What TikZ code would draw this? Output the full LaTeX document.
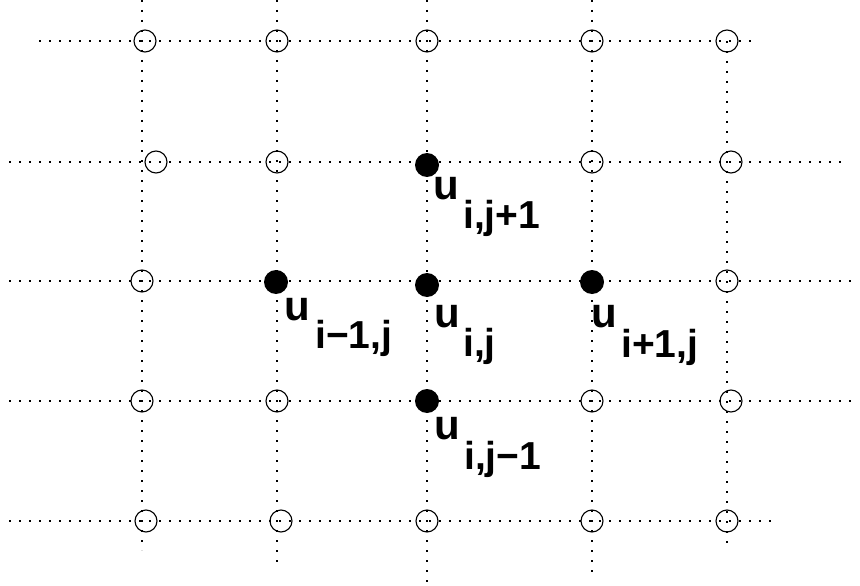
\documentclass[tikz,border=0pt]{standalone}
\usepackage{fontspec}
\setmainfont{Liberation Sans}

\begin{document}
\begin{tikzpicture}[
  x=1pt,y=-1pt,
  gridline/.style={line width=1.6pt,dash pattern=on 1.6pt off 8.4pt},
  opennode/.style={circle,draw,line width=1.1pt,minimum size=22pt,inner sep=0pt},
  fullnode/.style={circle,fill,minimum size=24pt,inner sep=0pt},
  ulbl/.style={anchor=base west,inner sep=0pt,
               font=\fontsize{42}{42}\selectfont\bfseries},
  sublbl/.style={anchor=base west,inner sep=0pt,
                 font=\fontsize{39}{39}\selectfont\bfseries},
]
\useasboundingbox (0,0) rectangle (860,586);

% Dotted grid lines.
\foreach \x/\ya/\yb in {142/0/550, 277/0/562, 427/0/582, 592/0/572, 727/41/545} {
  \draw[gridline] (\x,\ya) -- (\x,\yb);
}
\foreach \y/\xa/\xb in {41/39/753, 162/9/843, 281/9/853, 401/9/853, 521/9/773} {
  \draw[gridline] (\xa,\y) -- (\xb,\y);
}

% Open grid points.
\foreach \n/\x/\y in {a1/145/41, a2/277/41, a3/427/41, a4/592/41, a5/727/41,
                      b1/156/162, b2/277/162, b4/592/162, b5/731/162,
                      c1/142/281, c5/727/281,
                      d1/142/401, d2/277/401, d4/592/401, d5/731/401,
                      e1/146/521, e2/281/521, e3/427/521, e4/592/521, e5/727/521} {
  \node[opennode] (p\n) at (\x,\y) {};
}

% Stencil points.
\foreach \n/\x/\y in {ijp/427/165, imj/276/282, ij/427/285, ipj/592/282, ijm/427/401} {
  \node[fullnode] (p\n) at (\x,\y) {};
}

% Labels: u and its subscript.
\foreach \n/\ux/\uy/\sx/\sy/\t in {ijp/433/199/463/228/{i,j+1},
                                   imj/284/320/315/348/{i−1,j},
                                   ij/434/327/463/356/{i,j},
                                   ipj/591/327/621/357/{i+1,j},
                                   ijm/434/439/464/469/{i,j−1}} {
  \node[ulbl] (u\n) at (\ux,\uy) {u};
  \node[sublbl] (s\n) at (\sx,\sy) {\t};
}

\end{tikzpicture}
\end{document}
